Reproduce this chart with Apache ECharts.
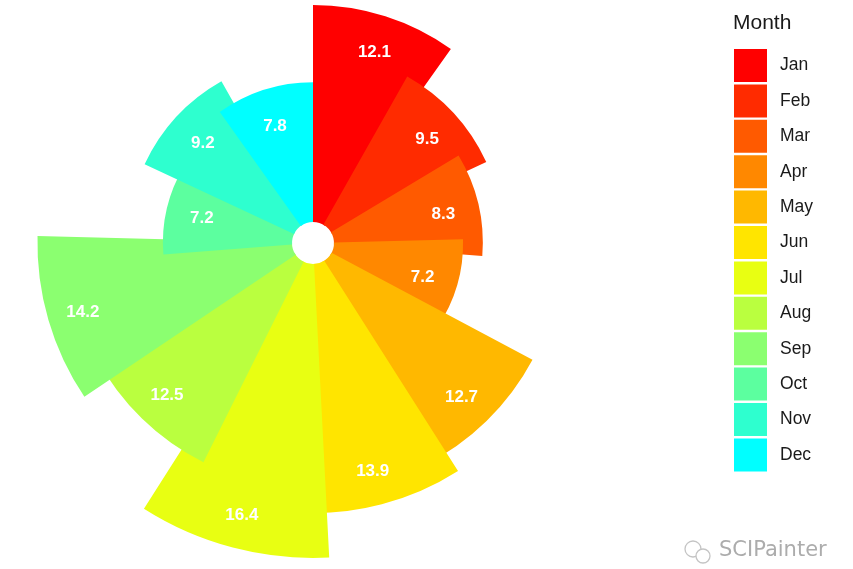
<!DOCTYPE html>
<html>
<head>
<meta charset="utf-8">
<script src="https://cdn.jsdelivr.net/npm/echarts@6/dist/echarts.min.js"></script>
<style>
  html, body { margin: 0; padding: 0; background: #fff; }
  #main { width: 853px; height: 569px; }
</style>
</head>
<body>
<div id="main"></div>
<script>
// 月份与数值
var months = ['Jan', 'Feb', 'Mar', 'Apr', 'May', 'Jun', 'Jul', 'Aug', 'Sep', 'Oct', 'Nov', 'Dec'];
var values = [12.1, 9.5, 8.3, 7.2, 12.7, 13.9, 16.4, 12.5, 14.2, 7.2, 9.2, 7.8];
var colors = ['#FF0000', '#FF2B00', '#FF5A00', '#FF8800', '#FFB800', '#FFE500',
              '#E8FF12', '#BAFF3F', '#8BFF70', '#5CFF9F', '#2EFFCF', '#00FFFF'];

const BAR_WIDTH = 1.2;   // 柱宽(类目单位), 比1大所以相邻扇形会重叠
const LABEL_INSET = 2;   // 标签离外缘的距离(数值单位)

var chart = echarts.init(document.getElementById('main'));

// 画一个扇形加上数值标签
function renderSlice(params, api)
{
    var cs = params.coordSys;
    var v = api.value(0), x = api.value(1);
    var p0 = api.coord([v, x - BAR_WIDTH / 2]);
    var p1 = api.coord([v, x + BAR_WIDTH / 2]);
    var a0 = Math.atan2(p0[1] - cs.cy, p0[0] - cs.cx);
    var a1 = Math.atan2(p1[1] - cs.cy, p1[0] - cs.cx);
    if (a1 <= a0) a1 += Math.PI * 2;
    var r = Math.sqrt((p0[0] - cs.cx) * (p0[0] - cs.cx) + (p0[1] - cs.cy) * (p0[1] - cs.cy));
    var lp = api.coord([v - LABEL_INSET, x]);
    return {
        type: 'group',
        children: [
            {
                type: 'sector',
                shape: { cx: cs.cx, cy: cs.cy, r0: cs.r0, r: r, startAngle: a0, endAngle: a1, clockwise: true },
                style: { fill: api.visual('color') }
            },
            {
                type: 'text',
                x: lp[0],
                y: lp[1] + 2,
                style: {
                    text: String(v),
                    align: 'center',
                    verticalAlign: 'middle',
                    fill: '#fff',
                    fontWeight: 'bold',
                    fontSize: 17,
                    fontFamily: 'Liberation Sans, Arial, sans-serif'
                }
            }
        ]
    };
}

// 每个月一个系列, 按顺序画, 后面的盖住前面的
var series = [];
for (let i = 0; i < months.length; i++)
{
    series.push({
        name: months[i],
        type: 'custom',
        coordinateSystem: 'polar',
        itemStyle: { color: colors[i] },
        renderItem: renderSlice,
        data: [[values[i], i + 1]]
    });
}

var option = {
    animation: false,
    backgroundColor: '#fff',
    polar: {
        center: [313, 243],
        radius: [21, 315]
    },
    angleAxis: {
        type: 'value',
        min: 0.4,
        max: 12.6,
        startAngle: 90,
        clockwise: true,
        axisLine: { show: false },
        axisTick: { show: false },
        axisLabel: { show: false },
        splitLine: { show: false }
    },
    radiusAxis: {
        type: 'value',
        min: 0,
        max: 16.4,
        axisLine: { show: false },
        axisTick: { show: false },
        axisLabel: { show: false },
        splitLine: { show: false }
    },
    legend: {
        orient: 'vertical',
        left: 734,
        top: 49,
        padding: 0,
        itemWidth: 33,
        itemHeight: 33,
        itemGap: 2.4,
        icon: 'rect',
        textStyle: {
            fontSize: 17.5,
            color: '#1a1a1a',
            fontFamily: 'Liberation Sans, Arial, sans-serif',
            padding: [2, 0, 0, 8]
        },
        data: months
    },
    graphic: [
        {
            type: 'text',
            left: 733,
            top: 13,
            style: {
                text: 'Month',
                fontSize: 21,
                fill: '#1a1a1a',
                fontFamily: 'Liberation Sans, Arial, sans-serif'
            }
        },
        {
            type: 'circle',
            shape: { cx: 693, cy: 549, r: 8 },
            style: { fill: 'none', stroke: '#c4c4c4', lineWidth: 1.3 }
        },
        {
            type: 'circle',
            shape: { cx: 703, cy: 556, r: 7 },
            style: { fill: '#fff', stroke: '#c4c4c4', lineWidth: 1.3 }
        },
        {
            type: 'text',
            left: 719,
            top: 540,
            style: {
                text: 'SCIPainter',
                fontSize: 21,
                fill: '#acacac',
                fontFamily: 'DejaVu Sans, sans-serif'
            }
        }
    ],
    series: series
};

chart.setOption(option);
</script>
</body>
</html>
